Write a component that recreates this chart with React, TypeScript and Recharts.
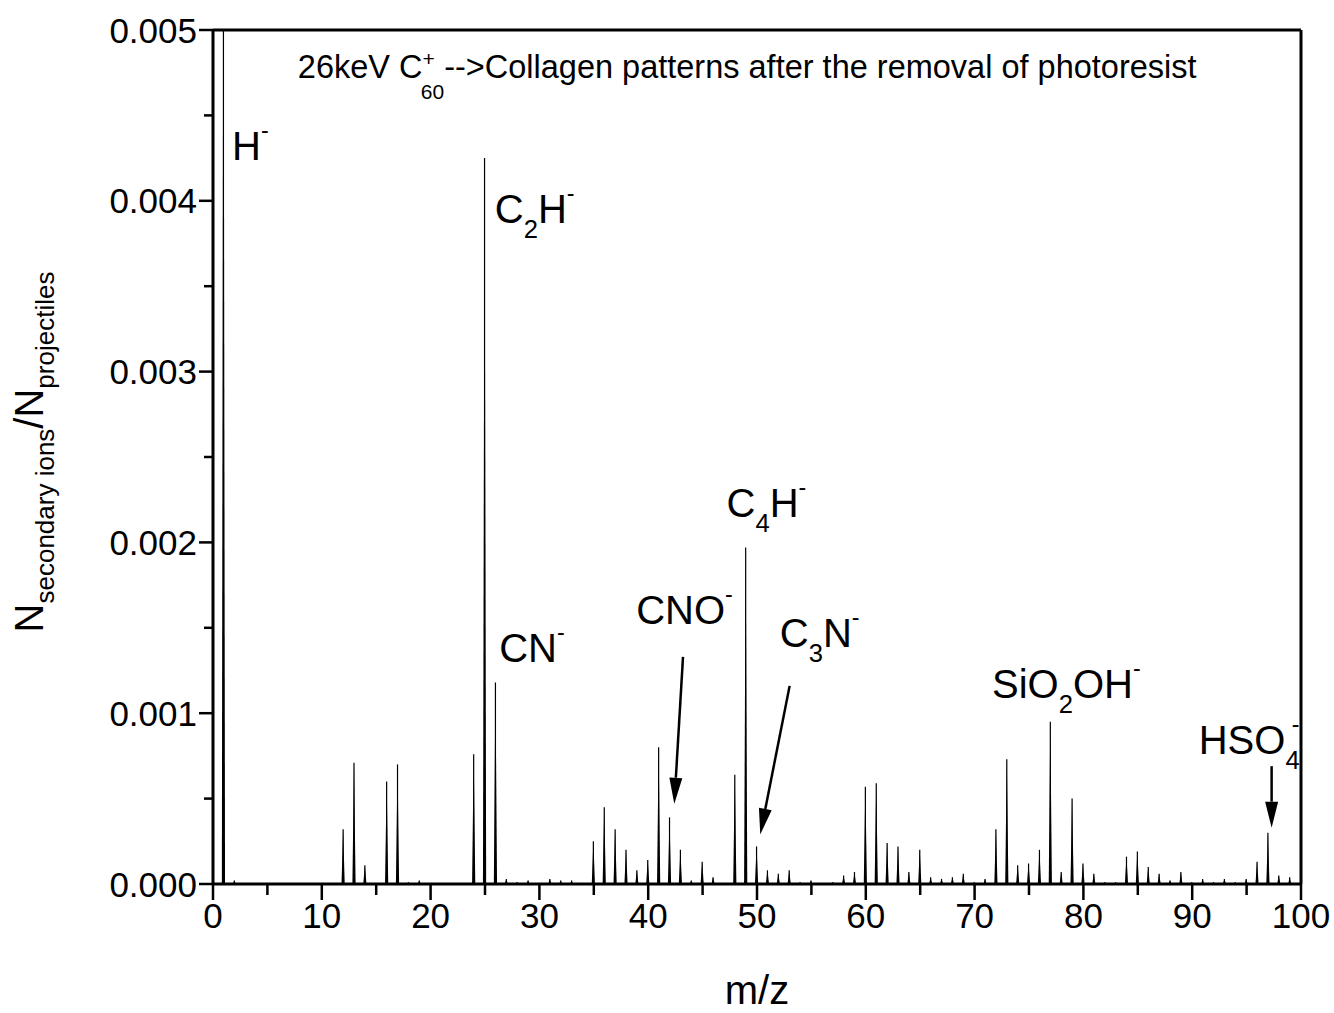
import { BarChart, Bar, XAxis, YAxis, ReferenceLine, ReferenceDot } from 'recharts';

// m/z of every peak that rises above the baseline
const masses = [
  1, 2, 12, 13, 14, 16, 17, 18, 19, 24, 25, 26, 27, 28, 29, 31, 32, 33,
  35, 36, 37, 38, 39, 40, 41, 42, 43, 44, 45, 46, 48, 49, 50, 51, 52, 53,
  54, 55, 57, 58, 59, 60, 61, 62, 63, 64, 65, 66, 67, 68, 69, 70, 71, 72,
  73, 74, 75, 76, 77, 78, 79, 80, 81, 82, 83, 84, 85, 86, 87, 88, 89, 90,
  91, 92, 93, 94, 95, 96, 97, 98, 99,
];

// N(secondary ions) / N(projectiles) (H- is off scale)
const yields = [
  0.0062, 0.00002, 0.00032, 0.00071, 0.00011, 0.0006, 0.0007, 0.00001, 0.00002, 0.00076, 0.00425, 0.00118, 0.00003, 0.00001, 0.00002, 0.00003, 0.00002, 0.00002,
  0.00025, 0.00045, 0.00032, 0.0002, 0.00008, 0.00014, 0.0008, 0.00039, 0.0002, 0.00002, 0.00013, 0.00004, 0.00064, 0.00197, 0.00022, 0.00008, 0.00006, 0.00008,
  0.00001, 0.00002, 0.00001, 0.00005, 0.00007, 0.00057, 0.00059, 0.00024, 0.00022, 0.00007, 0.0002, 0.00004, 0.00003, 0.00004, 0.00006, 0.00001, 0.00003, 0.00032,
  0.00073, 0.00011, 0.00012, 0.0002, 0.00095, 0.00007, 0.0005, 0.00012, 0.00006, 0.00001, 0.00001, 0.00016, 0.00019, 0.0001, 0.00006, 0.00002, 0.00007, 0.00001,
  0.00003, 0.00001, 0.00003, 0.00001, 0.00003, 0.00013, 0.0003, 0.00005, 0.00004,
];

const xTicks = [0, 5, 10, 15, 20, 25, 30, 35, 40, 45, 50, 55, 60, 65, 70, 75, 80, 85, 90, 95, 100];
const yTicks = [0, 0.0005, 0.001, 0.0015, 0.002, 0.0025, 0.003, 0.0035, 0.004, 0.0045, 0.005];

type Part = [string, 'n' | 'sub' | 'sup', number?];

// ion labels: [x, y, parts]
const ionLabels: { x: number; y: number; parts: Part[] }[] = [
  { x: 1.75, y: 0.00424, parts: [['H', 'n'], ['-', 'sup']] },
  { x: 25.9, y: 0.00387, parts: [['C', 'n'], ['2', 'sub'], ['H', 'n'], ['-', 'sup']] },
  { x: 26.3, y: 0.0013, parts: [['CN', 'n'], ['-', 'sup']] },
  { x: 38.9, y: 0.00152, parts: [['CNO', 'n'], ['-', 'sup']] },
  { x: 47.2, y: 0.00215, parts: [['C', 'n'], ['4', 'sub'], ['H', 'n'], ['-', 'sup']] },
  { x: 52.1, y: 0.00139, parts: [['C', 'n'], ['3', 'sub'], ['N', 'n'], ['-', 'sup']] },
  { x: 71.6, y: 0.00109, parts: [['SiO', 'n'], ['2', 'sub'], ['OH', 'n'], ['-', 'sup']] },
  { x: 90.6, y: 0.00076, parts: [['HSO', 'n'], ['4', 'sub'], ['-', 'sup', -8]] },
];

// arrows: from -> tip
const arrows = [
  { x1: 43.2, y1: 0.00133, x2: 42.4, y2: 0.00047 },
  { x1: 53.0, y1: 0.00116, x2: 50.3, y2: 0.00029 },
  { x1: 97.3, y1: 0.00069, x2: 97.3, y2: 0.00033 },
];

const data = masses.map((mz, i) => ({ mz, y: yields[i] }));
const font = '"Liberation Sans", Arial, Helvetica, sans-serif';

function Formula({ x, y, parts, fs }: { x: number; y: number; parts: Part[]; fs: number }) {
  let shift = 0;
  return (
    <text x={x} y={y} fontSize={fs} fontFamily={font} fill="#000">
      {parts.map(([t, kind, dx], i) => {
        const target = kind === 'sub' ? fs * 0.38 : kind === 'sup' ? -fs * 0.55 : 0;
        const dy = target - shift;
        shift = target;
        return (
          <tspan key={i} dy={dy} dx={dx ?? 0} fontSize={kind === 'n' ? fs : kind === 'sub' ? fs * 0.64 : fs * 0.58}>
            {t}
          </tspan>
        );
      })}
    </text>
  );
}

function Spike(props: any) {
  const { x, y, width, height } = props;
  if (height == null || height <= 0) return null;
  const cx = x + width / 2;
  const base = y + height;
  return (
    <g>
      <path d={`M${cx - 1.6},${base} L${cx},${y} L${cx + 1.6},${base} Z`} fill="#000" />
      <line x1={cx} y1={base} x2={cx} y2={y} stroke="#000" strokeWidth={1.2} />
    </g>
  );
}

function XTick(props: any) {
  const { x, y, payload } = props;
  const major = payload.value % 10 === 0;
  return (
    <g>
      <line x1={x} y1={y} x2={x} y2={y + (major ? 16 : 11)} stroke="#000" strokeWidth={2.5} />
      {major && (
        <text x={x} y={y + 44} textAnchor="middle" fontSize={35} fontFamily={font} fill="#000">
          {payload.value}
        </text>
      )}
    </g>
  );
}

function YTick(props: any) {
  const { x, y, payload } = props;
  const major = Math.round(payload.value * 10000) % 10 === 0;
  return (
    <g>
      <line x1={x} y1={y} x2={x - (major ? 14 : 9)} y2={y} stroke="#000" strokeWidth={2.5} />
      {major && (
        <text x={x - 16} y={y + 12.5} textAnchor="end" fontSize={35} fontFamily={font} fill="#000">
          {payload.value.toFixed(3)}
        </text>
      )}
    </g>
  );
}

function Arrow(props: any) {
  const { x1, y1, x2, y2 } = props;
  const dx = x2 - x1;
  const dy = y2 - y1;
  const len = Math.sqrt(dx * dx + dy * dy);
  const ux = dx / len;
  const uy = dy / len;
  const hl = 26;
  const hw = 6.5;
  const bx = x2 - ux * hl;
  const by = y2 - uy * hl;
  return (
    <g>
      <line x1={x1} y1={y1} x2={bx} y2={by} stroke="#000" strokeWidth={2.5} />
      <path d={`M${x2},${y2} L${bx - uy * hw},${by + ux * hw} L${bx + uy * hw},${by - ux * hw} Z`} fill="#000" />
    </g>
  );
}

function YLabel() {
  return (
    <text transform="translate(43,452) rotate(-90)" textAnchor="middle" fontFamily={font} fontSize={40} fill="#000">
      <tspan>N</tspan>
      <tspan fontSize={26} dy={11}>secondary ions</tspan>
      <tspan dy={-11}>/N</tspan>
      <tspan fontSize={26} dy={11}>projectiles</tspan>
    </text>
  );
}

export default function App() {
  return (
    <div style={{ position: 'absolute', left: 0, top: 0, background: '#fff' }}>
      <BarChart width={1334} height={1013} data={data} margin={{ top: 30, right: 33, left: 0, bottom: 0 }}>
        <XAxis
          dataKey="mz"
          type="number"
          domain={[0, 100]}
          ticks={xTicks}
          interval={0}
          height={129}
          tickSize={0}
          tickMargin={0}
          tick={<XTick />}
          axisLine={{ stroke: '#000', strokeWidth: 3 }}
          label={{
            content: () => (
              <text x={757} y={1004} textAnchor="middle" fontSize={40} fontFamily={font} fill="#000">
                m/z
              </text>
            ),
          }}
        />
        <YAxis
          type="number"
          domain={[0, 0.005]}
          allowDataOverflow
          ticks={yTicks}
          interval={0}
          width={213}
          tickSize={0}
          tickMargin={0}
          tick={<YTick />}
          axisLine={{ stroke: '#000', strokeWidth: 3 }}
          label={{ content: () => <YLabel /> }}
        />
        <ReferenceLine y={0.005} stroke="#000" strokeWidth={3} />
        <ReferenceLine x={100} stroke="#000" strokeWidth={3} />
        <Bar dataKey="y" barSize={4} shape={<Spike />} isAnimationActive={false} />
        {arrows.map((a, i) => (
          <ReferenceLine
            key={'a' + i}
            segment={[{ x: a.x1, y: a.y1 }, { x: a.x2, y: a.y2 }]}
            shape={(p: any) => <Arrow {...p} />}
          />
        ))}
        {ionLabels.map((l, i) => (
          <ReferenceDot
            key={'l' + i}
            x={l.x}
            y={l.y}
            r={1}
            fill="none"
            stroke="none"
            label={(p: any) => (
              <Formula x={p.viewBox.x + 1} y={p.viewBox.y + 1} parts={l.parts} fs={40} />
            )}
          />
        ))}
        <ReferenceDot
          x={7.8}
          y={0.00472}
          r={1}
          fill="none"
          stroke="none"
          label={(p: any) => (
            <text x={p.viewBox.x + 1} y={p.viewBox.y + 1} fontSize={32.5} fontFamily={font} fill="#000">
              <tspan>26keV C</tspan>
              <tspan fontSize={21} dy={-12}>+</tspan>
              <tspan fontSize={21} dx={-14} dy={33}>60</tspan>
              <tspan dy={-21}>--&gt;Collagen patterns after the removal of photoresist</tspan>
            </text>
          )}
        />
      </BarChart>
    </div>
  );
}
